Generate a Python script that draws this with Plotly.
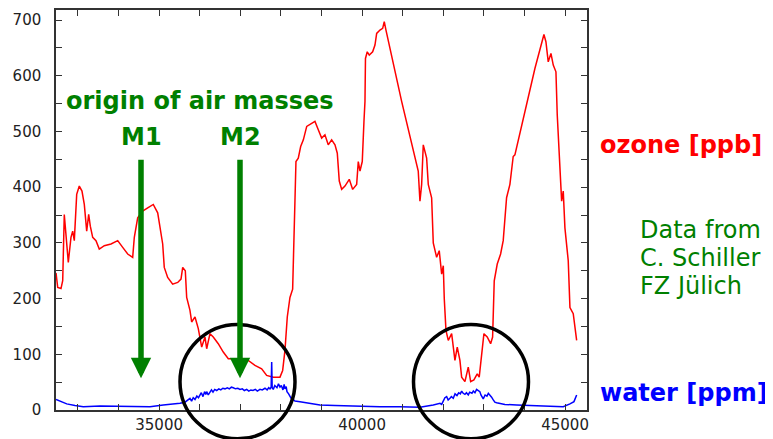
import plotly.graph_objects as go

# ---- data ----
ozone_x = [32460, 32502, 32583, 32625, 32664, 32706, 32763, 32829, 32871, 32911,
           32970, 33034, 33100, 33157, 33216, 33265, 33305, 33364, 33445, 33526,
           33650, 33815, 33980, 34103, 34226, 34349, 34389, 34472, 34595, 34719,
           34856, 34965, 35022, 35088, 35127, 35211, 35334, 35458, 35539, 35581,
           35645, 35679, 35760, 35802, 35884, 35965, 36049, 36130, 36172, 36253,
           36334, 36457, 36580, 36704, 36869, 37034, 37196, 37361, 37526, 37649,
           37812, 37977, 38043, 38100, 38157, 38223, 38289, 38321, 38346, 38371,
           38428, 38487, 38553, 38636, 38758, 38839, 38921, 39004, 39085, 39166,
           39250, 39332, 39389, 39438, 39497, 39578, 39684, 39768, 39866, 39906,
           39948, 40004, 40046, 40071, 40083, 40127, 40177, 40260, 40317, 40359,
           40440, 40507, 40546, 40588, 40974, 41260, 41383, 41425, 41467, 41507,
           41590, 41630, 41713, 41753, 41836, 41900, 41960, 42000, 42024, 42066,
           42123, 42206, 42287, 42344, 42410, 42452, 42533, 42615, 42674, 42754,
           42836, 42885, 42944, 43001, 43082, 43166, 43215, 43255, 43329, 43412,
           43476, 43493, 43559, 43641, 43722, 43764, 43969, 44257, 44479, 44528,
           44585, 44652, 44709, 44775, 44807, 44849, 44873, 44915, 44955, 44996,
           45078, 45120, 45201, 45285]
ozone_y = [246, 220, 218, 232, 351, 310, 265, 310, 321, 304,
           387, 402, 393, 369, 321, 351, 330, 310, 304, 289,
           295, 298, 304, 292, 280, 274, 310, 345, 357, 363,
           369, 354, 327, 298, 256, 238, 226, 229, 235, 256,
           250, 202, 179, 158, 167, 146, 113, 131, 110, 137,
           131, 119, 104, 92, 92, 89, 89, 80, 74, 62,
           59, 59, 71, 107, 167, 202, 217, 286, 375, 446,
           452, 473, 485, 509, 515, 518, 503, 488, 494, 476,
           485, 476, 461, 411, 396, 402, 414, 396, 405, 446,
           429, 446, 518, 554, 631, 643, 637, 643, 655, 676,
           682, 685, 697, 682, 554, 464, 429, 375, 405, 476,
           452, 405, 381, 300, 274, 286, 244, 259, 200, 143,
           125, 137, 89, 113, 89, 59, 51, 77, 51, 54,
           65, 59, 101, 137, 131, 119, 131, 232, 262, 280,
           304, 321, 381, 405, 455, 458, 524, 613, 674, 661,
           625, 640, 619, 607, 530, 458, 423, 375, 393, 327,
           268, 184, 173, 125]

water_x = [32460, 32724, 32928, 33132, 33544, 33955, 34357, 34775, 35103, 35317,
           35514, 35637, 35760, 35800, 35840, 35884, 35930, 35970, 36007, 36040,
           36081, 36120, 36150, 36172, 36210, 36253, 36290, 36327, 36370, 36418,
           36470, 36520, 36570, 36622, 36680, 36730, 36780, 36827, 36880, 36940,
           36992, 37050, 37100, 37157, 37210, 37260, 37312, 37370, 37420, 37485,
           37540, 37608, 37660, 37700, 37731, 37760, 37773, 37785, 37812, 37850,
           37903, 37940, 37977, 38010, 38051, 38080, 38100, 38130, 38150, 38190,
           38223, 38260, 38300, 38346, 38470, 38716, 38962, 39332, 39701, 40071,
           40440, 40933, 41425, 41753, 41918, 41960, 42000, 42040, 42083, 42120,
           42164, 42200, 42246, 42290, 42337, 42380, 42420, 42452, 42490, 42533,
           42570, 42615, 42650, 42706, 42740, 42780, 42820, 42861, 42900, 42928,
           42960, 42984, 43030, 43075, 43110, 43149, 43190, 43223, 43270, 43314,
           43518, 43807, 44135, 44381, 44750, 44955, 45120, 45219, 45285]
water_y = [19, 11, 8, 6, 7, 7, 6, 6, 9, 10,
           12, 14, 21, 16, 22, 19, 25, 22, 27, 31,
           24, 33, 28, 33, 27, 31, 36, 32, 37, 35,
           38, 36, 39, 38, 40, 38, 41, 40, 38, 39,
           37, 38, 35, 37, 34, 36, 35, 37, 34, 37,
           36, 39, 36, 40, 38, 41, 86, 40, 37, 44,
           40, 47, 41, 44, 36, 46, 38, 42, 33, 29,
           24, 20, 19, 16, 15, 12, 9, 8, 7, 7,
           6, 6, 5, 9, 12, 10, 15, 22, 24, 18,
           21, 24, 21, 29, 26, 31, 29, 34, 30, 28,
           31, 27, 32, 30, 34, 31, 37, 35, 33, 27,
           24, 20, 27, 25, 30, 27, 23, 19, 14, 13,
           10, 9, 8, 7, 6, 6, 11, 15, 27]

x_range = [32460, 45540]
y_range = [0, 718]

GREEN = "rgb(0,128,0)"
FONT = "DejaVu Sans"

# page has an 8px body margin: figure origin sits at (8, 8) in the window
OFF = 8
PL, PR, PT, PB = 56, 587, 8, 410   # plot area in window pixels
W, H = 773 - OFF, 439 - OFF


def px_x(px):
    return (px - PL) / (PR - PL)


def px_y(py):
    return (PB - py) / (PB - PT)


fig = go.Figure()
fig.add_trace(go.Scatter(x=ozone_x, y=ozone_y, mode="lines",
                         line=dict(color="#ff0000", width=1.5), showlegend=False))
fig.add_trace(go.Scatter(x=water_x, y=water_y, mode="lines",
                         line=dict(color="#0000ff", width=1.5), showlegend=False))

axis_common = dict(showgrid=False, zeroline=False, showline=True, linecolor="#333",
                   linewidth=1.5, mirror="ticks", ticks="inside", ticklen=6,
                   tickcolor="#333", tickwidth=1,
                   tickfont=dict(family=FONT, size=15, color="#222"))
fig.update_xaxes(range=x_range, tick0=35000, dtick=5000, tickformat="d",
                 minor=dict(dtick=1000, ticks="inside", ticklen=6, tickcolor="#333"),
                 **axis_common)
fig.update_yaxes(range=y_range, tick0=0, dtick=100,
                 minor=dict(dtick=50, ticks="inside", ticklen=6, tickcolor="#333"),
                 ticklabelstandoff=10, **axis_common)

ann = []
ann.append(dict(text="<b>origin of air masses</b>", x=px_x(200), y=px_y(99),
                xref="paper", yref="paper", showarrow=False,
                xanchor="center", yanchor="middle",
                font=dict(family=FONT, size=24, color=GREEN)))
for lbl, px in [("M1", 141), ("M2", 240)]:
    ann.append(dict(text="<b>%s</b>" % lbl, x=px_x(px), y=px_y(136),
                    xref="paper", yref="paper", showarrow=False,
                    xanchor="center", yanchor="middle",
                    font=dict(family=FONT, size=24, color=GREEN)))
    ann.append(dict(text="", x=px_x(px), y=px_y(378), xref="paper", yref="paper",
                    showarrow=True, arrowhead=2, arrowsize=0.74, arrowwidth=5.5,
                    arrowcolor=GREEN, ax=0, ay=-220, standoff=0))
ann.append(dict(text="<b>ozone [ppb]</b>", x=px_x(598), y=px_y(144),
                xref="paper", yref="paper", showarrow=False,
                xanchor="left", yanchor="middle",
                font=dict(family=FONT, size=24, color="#ff0000")))
ann.append(dict(text="<b>water [ppm]</b>", x=px_x(598), y=px_y(393),
                xref="paper", yref="paper", showarrow=False,
                xanchor="left", yanchor="middle",
                font=dict(family=FONT, size=24, color="#0000ff")))
for line, py in [("Data from", 229), ("C. Schiller", 257), ("FZ Jülich", 285)]:
    ann.append(dict(text=line, x=px_x(638), y=px_y(py),
                    xref="paper", yref="paper", showarrow=False,
                    xanchor="left", yanchor="middle",
                    font=dict(family=FONT, size=24, color=GREEN)))

shapes = []
for cx in [237.5, 471]:
    shapes.append(dict(type="circle", xref="paper", yref="paper",
                       x0=px_x(cx - 57.5), x1=px_x(cx + 57.5),
                       y0=px_y(439), y1=px_y(324),
                       line=dict(color="black", width=3.5), layer="above"))

fig.update_layout(width=W, height=H,
                  margin=dict(l=PL - OFF, r=W - (PR - OFF), t=PT - OFF, b=H - (PB - OFF)),
                  paper_bgcolor="white", plot_bgcolor="white",
                  annotations=ann, shapes=shapes)
fig.write_html("out.html")
